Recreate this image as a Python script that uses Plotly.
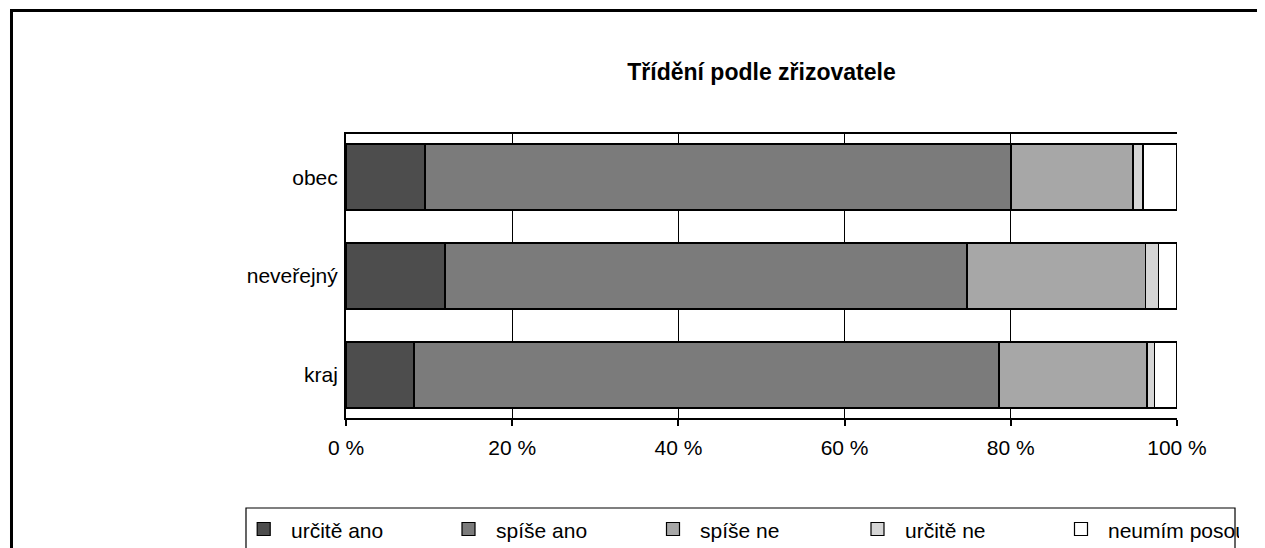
import plotly.graph_objects as go

categories = ["kraj", "neveřejný", "obec"]
series_names = ["určitě ano", "spíše ano", "spíše ne", "určitě ne", "neumím posoudit"]
# values per series, ordered as categories (kraj, neveřejný, obec)
urcite_ano = [8.2, 11.9, 9.5]
spise_ano = [70.4, 62.8, 70.5]
spise_ne = [17.8, 21.5, 14.7]
urcite_ne = [0.9, 1.6, 1.2]
neumim = [2.7, 2.2, 4.1]
series_values = [urcite_ano, spise_ano, spise_ne, urcite_ne, neumim]
colors = ["#4d4d4d", "#7b7b7b", "#a7a7a7", "#d5d5d5", "#ffffff"]
x_ticks = [0, 20, 40, 60, 80, 100]
x_tick_labels = ["0 %", "20 %", "40 %", "60 %", "80 %", "100 %"]
title_text = "Třídění podle zřizovatele"

FONT = "Liberation Sans, Arial, sans-serif"
OFF = 8  # page body margin
W, H = 1265 - OFF, 548 - OFF
# plot area in reference-page px
L0, R0, T0, B0 = 346, 1177, 134, 418
L, R, T, B = L0 - OFF, R0 - OFF, T0 - OFF, B0 - OFF


def xp(px):
    return (px - L0) / (R0 - L0)


def yp(py):
    return (B0 - py) / (B0 - T0)


fig = go.Figure()
for name, vals, col in zip(series_names, series_values, colors):
    fig.add_trace(go.Bar(
        y=categories, x=vals, name=name, orientation="h",
        marker=dict(color=col, line=dict(color="black", width=1.5)),
        width=0.668, showlegend=False, hoverinfo="x+name",
    ))

shapes = []
# outer chart border: only left and top edges are visible
shapes.append(dict(type="path", xref="paper", yref="paper",
                   path="M %.5f,%.5f L %.5f,%.5f L %.5f,%.5f" % (
                       xp(11.5), yp(600), xp(11.5), yp(10.5), xp(1300), yp(10.5)),
                   line=dict(color="black", width=3), layer="below"))
# legend box: left, top and right edges visible
shapes.append(dict(type="path", xref="paper", yref="paper",
                   path="M %.5f,%.5f L %.5f,%.5f L %.5f,%.5f L %.5f,%.5f" % (
                       xp(246), yp(600), xp(246), yp(508), xp(1235), yp(508), xp(1235), yp(600)),
                   line=dict(color="black", width=1.2)))

annotations = []
marker_cx = [263.7, 468.5, 673, 877.5, 1081]
leg_y = 529
for i, (name, col) in enumerate(zip(series_names, colors)):
    cx = marker_cx[i]
    shapes.append(dict(type="rect", xref="paper", yref="paper",
                       x0=xp(cx - 6.5), x1=xp(cx + 6.5), y0=yp(leg_y + 6.5), y1=yp(leg_y - 6.5),
                       line=dict(color="black", width=1.2), fillcolor=col))
    ann = dict(text=name, xref="paper", yref="paper", x=xp(cx + 25), y=yp(leg_y + 1),
               xanchor="left", yanchor="middle", showarrow=False, align="left",
               font=dict(family=FONT, size=21, color="black"))
    if i == len(series_names) - 1:
        ann["width"] = 1237 - (cx + 25)
    annotations.append(ann)

fig.update_layout(
    width=W, height=H,
    margin=dict(l=L, r=W - R, t=T, b=H - B, pad=0),
    paper_bgcolor="white", plot_bgcolor="white",
    barmode="stack", bargap=0.332,
    title=dict(text="<b>" + title_text + "</b>", x=((L + R) / 2) / W, xanchor="center",
               y=1 - (72 - OFF) / H, yanchor="middle",
               font=dict(family=FONT, size=23, color="black")),
    font=dict(family=FONT, size=21, color="black"),
    xaxis=dict(range=[0, 100], tickvals=x_ticks, ticktext=x_tick_labels,
               showgrid=True, gridcolor="black", gridwidth=1.2,
               showline=True, linecolor="black", linewidth=1.5, mirror=True,
               ticks="outside", ticklen=6, tickcolor="black", tickwidth=1.5,
               ticklabelstandoff=4,
               zeroline=False, tickfont=dict(family=FONT, size=21, color="black")),
    yaxis=dict(categoryorder="array", categoryarray=categories, range=[-0.437, 2.437],
               showgrid=False, showline=True, linecolor="black", linewidth=2,
               ticks="", zeroline=False, ticklabelstandoff=2,
               tickfont=dict(family=FONT, size=21, color="black")),
    shapes=shapes, annotations=annotations,
)

fig.write_html("out.html")
